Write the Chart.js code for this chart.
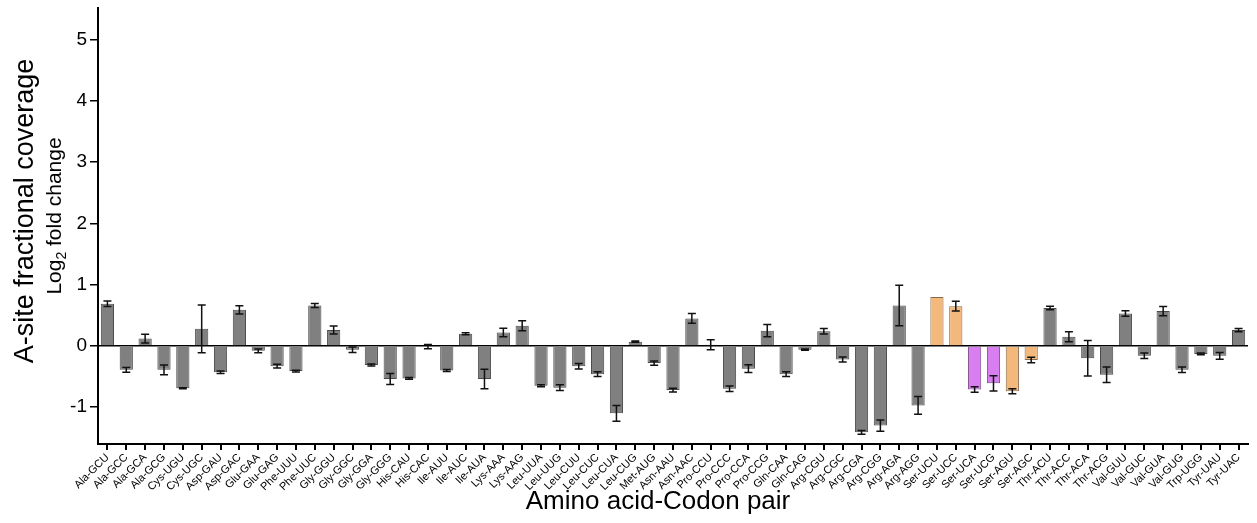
<!DOCTYPE html>
<html>
<head>
<meta charset="utf-8">
<script src="https://cdn.jsdelivr.net/npm/chart.js@4.4.1/dist/chart.umd.min.js"></script>
<style>
  body { margin: 0; background: #fff; }
  #caixa { width: 1257px; height: 523px; }
</style>
</head>
<body>
<div id="caixa"><canvas id="grafico"></canvas></div>
<script>
// categorias (aminoacido-codon)
var codons = ["Ala-GCU","Ala-GCC","Ala-GCA","Ala-GCG","Cys-UGU","Cys-UGC","Asp-GAU","Asp-GAC",
  "Glu-GAA","Glu-GAG","Phe-UUU","Phe-UUC","Gly-GGU","Gly-GGC","Gly-GGA","Gly-GGG",
  "His-CAU","His-CAC","Ile-AUU","Ile-AUC","Ile-AUA","Lys-AAA","Lys-AAG","Leu-UUA",
  "Leu-UUG","Leu-CUU","Leu-CUC","Leu-CUA","Leu-CUG","Met-AUG","Asn-AAU","Asn-AAC",
  "Pro-CCU","Pro-CCC","Pro-CCA","Pro-CCG","Gln-CAA","Gln-CAG","Arg-CGU","Arg-CGC",
  "Arg-CGA","Arg-CGG","Arg-AGA","Arg-AGG","Ser-UCU","Ser-UCC","Ser-UCA","Ser-UCG",
  "Ser-AGU","Ser-AGC","Thr-ACU","Thr-ACC","Thr-ACA","Thr-ACG","Val-GUU","Val-GUC",
  "Val-GUA","Val-GUG","Trp-UGG","Tyr-UAU","Tyr-UAC"];

// log2 fold change
var valores = [0.69,-0.39,0.12,-0.39,-0.69,0.28,-0.43,0.59,
  -0.08,-0.33,-0.41,0.66,0.26,-0.06,-0.31,-0.54,
  -0.53,-0.01,-0.40,0.20,-0.54,0.22,0.33,-0.65,
  -0.68,-0.33,-0.46,-1.10,0.07,-0.28,-0.72,0.45,
  0.02,-0.70,-0.37,0.25,-0.46,-0.06,0.24,-0.22,
  -1.41,-1.30,0.66,-0.97,0.80,0.65,-0.71,-0.61,
  -0.74,-0.23,0.62,0.15,-0.20,-0.47,0.53,-0.16,
  0.57,-0.39,-0.13,-0.16,0.26];

// barras de erro (+/-)
var erros = [0.045,0.04,0.07,0.08,0.01,0.39,0.02,0.068,
  0.03,0.03,0.015,0.033,0.065,0.045,0.015,0.09,
  0.015,0.035,0.015,0.015,0.16,0.07,0.08,0.015,
  0.045,0.045,0.04,0.13,0.01,0.035,0.03,0.08,
  0.08,0.045,0.065,0.1,0.04,0.01,0.045,0.04,
  0.03,0.09,0.33,0.145,0,0.08,0.045,0.125,
  0.04,0.045,0.03,0.08,0.29,0.125,0.045,0.045,
  0.075,0.045,0.015,0.055,0.027];

// grupo de cor: 0 cinza, 1 laranja, 2 roxo
var grupos = [];
for (var cont = 0; cont < codons.length; cont++) {
    var g = 0;
    if (codons[cont] == "Ser-UCU" || codons[cont] == "Ser-UCC" || codons[cont] == "Ser-AGU" || codons[cont] == "Ser-AGC") g = 1;
    if (codons[cont] == "Ser-UCA" || codons[cont] == "Ser-UCG") g = 2;
    grupos.push(g);
}

var yTicks = [-1, 0, 1, 2, 3, 4, 5];

var coresFundo = ['#808080', '#f3b87c', '#d87ef0'];
var coresBorda = ['#4a4a4a', '#8a6a4a', '#7a4a8a'];

var fonte = '"Liberation Sans", Arial, sans-serif';

var pluginErro = {
    id: 'barrasErro',
    afterDatasetsDraw: function (chart) {
        var ctx = chart.ctx;
        var meta = chart.getDatasetMeta(0);
        var y = chart.scales.y;
        ctx.save();
        ctx.strokeStyle = '#111';
        ctx.lineWidth = 1.5;
        for (var i = 0; i < meta.data.length; i++) {
            if (!erros[i]) continue;
            var x = meta.data[i].x;
            var y1 = y.getPixelForValue(valores[i] + erros[i]);
            var y2 = y.getPixelForValue(valores[i] - erros[i]);
            ctx.beginPath();
            ctx.moveTo(x, y1); ctx.lineTo(x, y2);
            ctx.moveTo(x - 4, y1); ctx.lineTo(x + 4, y1);
            ctx.moveTo(x - 4, y2); ctx.lineTo(x + 4, y2);
            ctx.stroke();
        }
        ctx.restore();
    }
};

var pluginTitulos = {
    id: 'titulos',
    afterDraw: function (chart) {
        var ctx = chart.ctx;
        ctx.save();
        ctx.fillStyle = '#000';
        ctx.textAlign = 'center';
        ctx.textBaseline = 'middle';
        // titulo x
        ctx.font = '26px ' + fonte;
        ctx.fillText('Amino acid-Codon pair', 658, 502);
        // titulo y
        ctx.save();
        ctx.translate(26, 211);
        ctx.rotate(-Math.PI / 2);
        ctx.font = '27px ' + fonte;
        ctx.fillText('A-site fractional coverage', 0, 0);
        ctx.restore();
        // segunda linha com subscrito
        ctx.translate(55, 216);
        ctx.rotate(-Math.PI / 2);
        ctx.font = '21px ' + fonte;
        var p1 = 'Log', p2 = '2', p3 = ' fold change';
        var w1 = ctx.measureText(p1).width;
        var w3 = ctx.measureText(p3).width;
        ctx.font = '14px ' + fonte;
        var w2 = ctx.measureText(p2).width;
        var x0 = -(w1 + w2 + w3) / 2;
        ctx.textAlign = 'left';
        ctx.font = '21px ' + fonte;
        ctx.fillText(p1, x0, 0);
        ctx.font = '14px ' + fonte;
        ctx.fillText(p2, x0 + w1, 7);
        ctx.font = '21px ' + fonte;
        ctx.fillText(p3, x0 + w1 + w2, 0);
        ctx.restore();
    }
};

var ctx = document.getElementById('grafico');
new Chart(ctx, {
    type: 'bar',
    data: {
        labels: codons,
        datasets: [{
            data: valores,
            backgroundColor: grupos.map(function (g) { return coresFundo[g]; }),
            borderColor: grupos.map(function (g) { return coresBorda[g]; }),
            borderWidth: 1,
            categoryPercentage: 1,
            barPercentage: 0.7
        }]
    },
    options: {
        responsive: true,
        maintainAspectRatio: false,
        animation: false,
        layout: { padding: { top: 2, right: 9, left: 0, bottom: 0 } },
        plugins: {
            legend: { display: false },
            tooltip: { enabled: false }
        },
        scales: {
            x: {
                offset: true,
                afterFit: function (s) { s.height = 79; },
                border: { color: '#000', width: 2 },
                grid: { offset: false, drawOnChartArea: false, tickLength: 6, tickColor: '#000', lineWidth: 2 },
                ticks: {
                    autoSkip: false, maxRotation: 45, minRotation: 45, color: '#000', padding: 1,
                    font: { family: fonte, size: 11 }
                }
            },
            y: {
                min: -1.6,
                max: 5.52,
                afterFit: function (s) { s.width = 98; },
                afterBuildTicks: function (s) { s.ticks = yTicks.map(function (v) { return { value: v }; }); },
                border: { color: '#000', width: 2 },
                grid: {
                    color: function (c) { return c.tick && c.tick.value === 0 ? '#000' : 'rgba(0,0,0,0)'; },
                    lineWidth: 1.5,
                    tickColor: '#000',
                    tickLength: 8
                },
                ticks: {
                    color: '#000', padding: 3,
                    font: { family: fonte, size: 19, lineHeight: 0.5 }
                }
            }
        }
    },
    plugins: [pluginErro, pluginTitulos]
});
</script>
</body>
</html>
